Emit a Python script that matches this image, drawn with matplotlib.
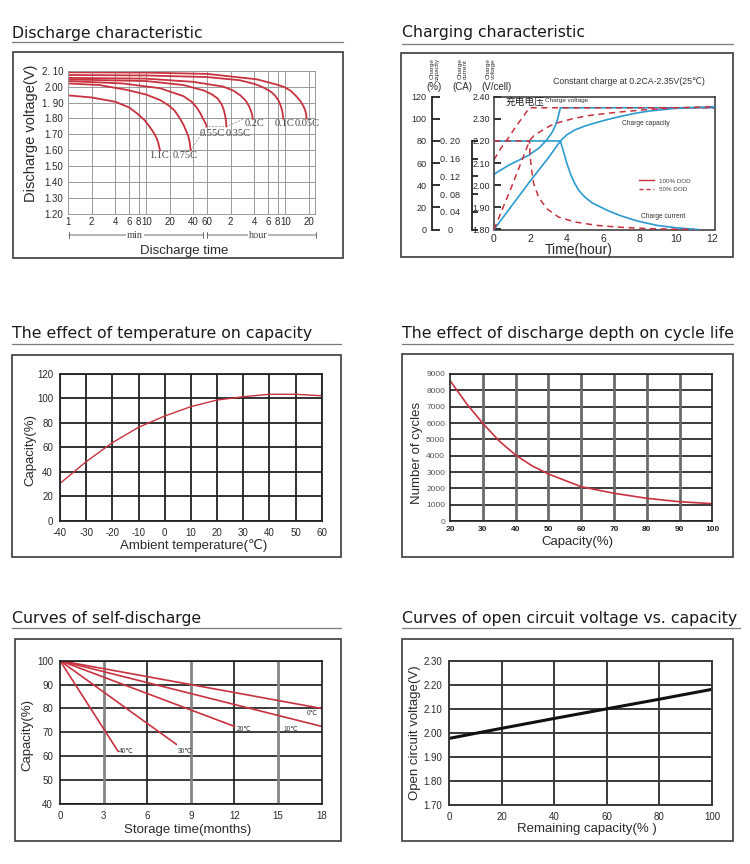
import numpy as np
import matplotlib
matplotlib.use("Agg")
import matplotlib.pyplot as plt
from matplotlib.lines import Line2D
from matplotlib.patches import Rectangle
from matplotlib.ticker import NullLocator

plt.rcParams.update({
    "font.family": ["Liberation Sans", "DejaVu Sans"],
    "axes.linewidth": 1.0,
    "axes.unicode_minus": False,
})

W, H = 750, 864

# ---------------- data ----------------
# discharge characteristic: time (min), voltage per cell (V)
dis_rates = ["1.1C", "0.75C", "0.55C", "0.35C", "0.2C", "0.1C", "0.05C"]
dis_t_110 = [1, 2, 4, 6, 7.5, 9.5, 11, 12.5, 13.5, 14.3, 15]
dis_v_110 = [1.945, 1.932, 1.905, 1.87, 1.835, 1.79, 1.75, 1.71, 1.68, 1.645, 1.60]
dis_t_075 = [1, 2.5, 5.6, 10, 15, 19, 23, 27, 30, 32.5, 34.7, 36, 37]
dis_v_075 = [2.02, 2.01, 1.98, 1.95, 1.916, 1.885, 1.85, 1.80, 1.76, 1.72, 1.685, 1.65, 1.60]
dis_t_055 = [1, 5, 15, 30, 38, 44, 49, 53, 56, 58, 59]
dis_v_055 = [2.035, 2.02, 1.99, 1.94, 1.905, 1.87, 1.835, 1.80, 1.78, 1.765, 1.75]
dis_t_035 = [1, 10, 30, 55, 70, 82, 92, 98, 102, 105, 106]
dis_v_035 = [2.045, 2.035, 2.01, 1.975, 1.95, 1.925, 1.89, 1.855, 1.82, 1.78, 1.75]
dis_t_020 = [1, 10, 40, 97, 130, 160, 185, 205, 218, 226, 230]
dis_v_020 = [2.055, 2.05, 2.03, 2.0, 1.975, 1.945, 1.915, 1.88, 1.85, 1.825, 1.80]
dis_t_010 = [1, 10, 60, 158, 250, 330, 400, 450, 490, 525, 550, 566]
dis_v_010 = [2.073, 2.07, 2.06, 2.04, 2.015, 1.99, 1.965, 1.94, 1.915, 1.88, 1.845, 1.80]
dis_t_005 = [1, 10, 60, 259, 450, 566, 700, 841, 950, 1030, 1074, 1105, 1125]
dis_v_005 = [2.09, 2.088, 2.08, 2.046, 2.015, 2.0, 1.975, 1.937, 1.905, 1.875, 1.853, 1.83, 1.80]
dis_end_t = [15, 37, 59, 106, 183, 1125]
dis_end_v = [1.60, 1.60, 1.75, 1.75, 1.80, 1.80]
dis_xticks = [1, 2, 4, 6, 8, 10, 20, 40, 60, 120, 240, 360, 480, 600, 1200]
dis_xlabels = ["1", "2", "4", "6", "8", "10", "20", "40", "60",
               "2", "4", "6", "8", "10", "20"]
dis_yticks = [1.2, 1.3, 1.4, 1.5, 1.6, 1.7, 1.8, 1.9, 2.0, 2.1]
dis_ylabels = ["1.20", "1.30", "1.40", "1.50", "1.60", "1.70", "1.80",
               "1. 90", "2.00", "2. 10"]

# charging characteristic: time (h)
chg_t_v100 = [0, 0.8, 1.9, 2.5, 2.9, 3.2, 3.35, 3.5, 3.65, 12.1]
chg_v100 = [2.05, 2.09, 2.135, 2.17, 2.205, 2.24, 2.265, 2.30, 2.35, 2.35]
chg_t_i100 = [0, 3.65, 3.72, 3.85, 4.0, 4.2, 4.4, 4.65, 5.0, 5.4, 5.8, 6.3, 6.9, 7.5, 8.0, 9.0, 10.0, 11.2]
chg_i100 = [0.20, 0.20, 0.19, 0.172, 0.150, 0.126, 0.107, 0.089, 0.073, 0.060, 0.052, 0.042,
            0.032, 0.024, 0.018, 0.009, 0.004, 0.0]
chg_t_c100 = [0, 1, 2, 3, 3.65, 4.0, 4.45, 5.0, 5.5, 6.2, 6.9, 7.7, 8.5, 10, 12.1]
chg_c100 = [0, 22, 44, 65, 80, 85.5, 90, 93.5, 96, 99.2, 102, 104.8, 107, 109.5, 111]
chg_t_v50 = [0, 0.4, 0.8, 1.2, 1.6, 1.95, 12.1]
chg_v50 = [2.115, 2.17, 2.215, 2.265, 2.31, 2.35, 2.35]
chg_t_i50 = [0, 1.95, 1.98, 2.05, 2.18, 2.45, 2.9, 3.55, 4.45, 5.7, 7.0, 8.5, 11.0]
chg_i50 = [0.20, 0.20, 0.17, 0.14, 0.104, 0.073, 0.047, 0.028, 0.017, 0.009, 0.005, 0.002, 0.0]
chg_t_c50 = [0, 0.5, 1, 1.5, 1.95, 2.2, 2.6, 3.0, 3.4, 4.3, 5.2, 6.8, 8.5, 10, 12.1]
chg_c50 = [0, 20, 40, 61, 80, 85, 89, 93, 96, 100, 103, 106, 108.5, 110, 111]
cur_ticks = [0, 0.04, 0.08, 0.12, 0.16, 0.20]
cur_labels = ["0", "0. 04", "0. 08", "0. 12", "0. 16", "0. 20"]

# temperature vs capacity
temp_c = [-40, -30, -20, -10, 0, 10, 20, 30, 40, 50, 60]
temp_cap = [30.5, 48.3, 63.8, 76.4, 85.6, 93.3, 98.7, 101.4, 103.4, 103.4, 102.2]

# depth of discharge vs cycle life
dod_cap = [20, 25, 30, 35, 40, 45, 50, 60, 70, 80, 90, 100]
dod_cycles = [8600, 7200, 5980, 4900, 4040, 3380, 2880, 2100, 1700, 1390, 1180, 1060]

# self-discharge: start (0 months, 100 %) -> end point
sd_labels = ["0℃", "10℃", "20℃", "30℃", "40℃"]
sd_end_month = [18, 18, 12, 8, 4]
sd_end_cap = [80, 72.5, 72.5, 65, 62]

# open circuit voltage vs remaining capacity
ocv_cap = [0, 20, 40, 60, 80, 100]
ocv_v = [1.977, 2.019, 2.06, 2.10, 2.14, 2.181]

RED = "#c8323f"
BLUE = "#2b9bcf"
TXT = "#2a2a2a"

fig = plt.figure(figsize=(W / 100, H / 100), dpi=100)
bg = fig.add_axes([0, 0, 1, 1])
bg.set_xlim(0, W); bg.set_ylim(H, 0); bg.axis("off")


def px_axes(x0, y0, x1, y1):
    return fig.add_axes([x0 / W, 1 - y1 / H, (x1 - x0) / W, (y1 - y0) / H])


def panel(title, tx, ty, ux1, uy, box):
    bg.text(tx, ty, title, fontsize=11.3, family="DejaVu Sans", va="baseline", color="#1a1a1a")
    bg.plot([tx, ux1], [uy, uy], color="#7a7a7a", lw=0.9)
    x0, y0, x1, y1 = box
    bg.add_patch(Rectangle((x0, y0), x1 - x0, y1 - y0, fill=False, ec="#4a4a4a", lw=1.3))


panel("Discharge characteristic", 12, 38, 343, 41.5, (13, 51.5, 343, 258))
panel("Charging characteristic", 402, 37.5, 733, 43.5, (401, 53, 733, 257))
panel("The effect of temperature on capacity", 12, 338, 341, 344, (12, 355, 341, 557))
panel("The effect of discharge depth on cycle life", 402, 338, 733, 344, (402, 354, 733, 557))
panel("Curves of self-discharge", 12, 623.5, 341, 628, (15, 639, 341, 841))
panel("Curves of open circuit voltage vs. capacity", 402, 622.5, 740, 627.5, (402, 639, 733, 841))

# ---------------- discharge ----------------
ax1 = px_axes(68, 70.7, 315, 214)
ax1.set_xscale("log")
ax1.set_xlim(1, 1440); ax1.set_ylim(1.2, 2.1)
ax1.set_xticks(dis_xticks); ax1.set_xticklabels(dis_xlabels)
ax1.xaxis.set_minor_locator(NullLocator())
ax1.set_yticks(dis_yticks); ax1.set_yticklabels(dis_ylabels)
ax1.grid(True, color="#9a9a9a", lw=0.7)
ax1.tick_params(length=0, labelsize=7, colors=TXT)
ax1.tick_params(axis="y", pad=3.5)
ax1.tick_params(axis="x", pad=2.5)
for s in ax1.spines.values():
    s.set_color("#9a9a9a"); s.set_linewidth(0.7)
ax1.plot(dis_end_t, dis_end_v, color="#a0a0a0", lw=0.7, ls=(0, (2, 1.5)))
dis_curves = [(dis_t_110, dis_v_110), (dis_t_075, dis_v_075), (dis_t_055, dis_v_055),
              (dis_t_035, dis_v_035), (dis_t_020, dis_v_020), (dis_t_010, dis_v_010),
              (dis_t_005, dis_v_005)]
lab_f = [0.97, 0.86, 1.17, 1.40, 1.07, 1.04, 1.01]
lab_dv = [0.03, 0.033, 0.043, 0.043, 0.03, 0.03, 0.03]
for (t, v), name, f, dv in zip(dis_curves, dis_rates, lab_f, lab_dv):
    ax1.plot(t, v, color=RED, lw=1.3)
    ax1.text(t[-1] * f, v[-1] - dv, name, ha="center", va="center", fontsize=7.5,
             family="Liberation Serif", color="#444", clip_on=False)
bg.text(31, 133, "Discharge voltage(V)", rotation=90, ha="center", va="center",
        fontsize=10.5, color=TXT)
bg.text(184, 251, "Discharge time", ha="center", va="center", fontsize=9.5, color=TXT)
for xa, xb, lab, xm in [(69, 203, "min", 135), (207, 316, "hour", 258)]:
    bg.annotate("", xy=(xa, 235), xytext=(xb, 235),
                arrowprops=dict(arrowstyle="|-|,widthA=0.25,widthB=0.25", lw=0.6, color="#555",
                                shrinkA=0, shrinkB=0))
    bg.text(xm, 235, lab, ha="center", va="center", fontsize=7.5, family="Liberation Serif",
            color="#444", bbox=dict(fc="white", ec="none", pad=0.6))

# ---------------- charging ----------------
axc = px_axes(494, 96.7, 715, 229.5)
axc.set_xlim(0, 12.15); axc.set_ylim(1.80, 2.40)
axc.set_xticks(range(0, 13, 2))
axc.set_yticks([1.8, 1.9, 2.0, 2.1, 2.2, 2.3, 2.4])
axc.set_yticklabels(["1.80", "1.90", "2.00", "2.10", "2.20", "2.30", "2.40"])
axc.tick_params(axis="y", direction="in", length=5, width=1.3, color="#222",
                labelsize=6.5, pad=3, labelcolor=TXT)
axc.tick_params(axis="x", length=0, labelsize=7.5, pad=3, labelcolor=TXT)
for s in axc.spines.values():
    s.set_color("#333"); s.set_linewidth(1.1)
cap_tw = axc.twinx(); cap_tw.set_ylim(0, 120); cap_tw.axis("off")
cur_tw = axc.twinx(); cur_tw.set_ylim(0, 0.30); cur_tw.axis("off")
dash = (0, (4, 3))
axc.plot(chg_t_v100, chg_v100, color=BLUE, lw=1.2)
cur_tw.plot(chg_t_i100, chg_i100, color=BLUE, lw=1.2)
cap_tw.plot(chg_t_c100, chg_c100, color=BLUE, lw=1.2)
axc.plot(chg_t_v50, chg_v50, color=RED, lw=1.1, ls=dash)
cur_tw.plot(chg_t_i50, chg_i50, color=RED, lw=1.1, ls=dash)
cap_tw.plot(chg_t_c50, chg_c50, color=RED, lw=1.1, ls=dash)
axc.legend(handles=[Line2D([], [], color=RED, lw=1.0),
                    Line2D([], [], color=RED, lw=1.0, ls=(0, (3, 2)))],
           labels=["100% DOD", "50% DOD"], loc="upper left",
           bbox_to_anchor=(0.64, 0.41), frameon=False, fontsize=4.5,
           handlelength=2.4, handletextpad=0.8, labelspacing=0.45, borderpad=0,
           labelcolor="#444")
axc.text(0.05, 0.965, "充电电压", transform=axc.transAxes, fontsize=7,
         family=["Noto Sans CJK SC", "DejaVu Sans"], va="center", ha="left", color="#222")
axc.text(0.232, 0.97, "Charge voltage", transform=axc.transAxes, fontsize=4.6,
         va="center", ha="left", color="#333")
axc.text(0.58, 0.80, "Charge capacity", transform=axc.transAxes, fontsize=4.8,
         va="center", ha="left", color="#333")
axc.text(0.667, 0.10, "Charge current", transform=axc.transAxes, fontsize=4.8,
         va="center", ha="left", color="#333")

cap_ax = px_axes(432, 96.7, 440, 229.5)
cap_ax.set_facecolor("none")
cap_ax.set_ylim(0, 120); cap_ax.set_xticks([])
cap_ax.set_yticks(range(0, 121, 20))
cur_ax = px_axes(471.7, 96.7, 480, 229.5)
cur_ax.set_facecolor("none")
cur_ax.set_ylim(0, 0.30); cur_ax.set_xticks([])
cur_ax.set_yticks(cur_ticks); cur_ax.set_yticklabels(cur_labels)
cur_ax.spines["left"].set_bounds(0, 0.20)
for a, pad, tl in [(cap_ax, 4, 6), (cur_ax, 15.5, 4)]:
    for k in ("top", "right", "bottom"):
        a.spines[k].set_visible(False)
    a.spines["left"].set_linewidth(1.3); a.spines["left"].set_color("#222")
    a.tick_params(axis="y", direction="in", length=tl, width=1.3, color="#222",
                  labelsize=6.5, pad=pad, labelcolor=TXT)
for lab in cur_ax.get_yticklabels():
    lab.set_ha("center")

for x, s in [(435, "Charge\ncapacity"), (462.5, "Charge\ncurrent"), (491, "Charge\nvoltage")]:
    bg.text(x, 69, s, rotation=90, ha="center", va="center", fontsize=4.6,
            linespacing=0.95, color="#333")
for x, s in [(434, "(%)"), (462, "(CA)"), (496, "(V/cell)")]:
    bg.text(x, 87.5, s, ha="center", va="center", fontsize=7, color=TXT)
bg.text(553, 81, "Constant charge at 0.2CA-2.35V(25℃)", ha="left", va="center",
        fontsize=6.3, color="#333")
bg.text(579, 250, "Time(hour)", ha="center", va="center", fontsize=10, color=TXT)

# ---------------- temperature ----------------
ax3 = px_axes(60, 374, 321.7, 520.7)
ax3.set_xlim(-40, 60); ax3.set_ylim(0, 120)
ax3.set_xticks(range(-40, 61, 10)); ax3.set_yticks(range(0, 121, 20))
ax3.grid(True, color="#222", lw=1.3)
ax3.tick_params(length=0, labelsize=7, pad=5, labelcolor=TXT)
for s in ax3.spines.values():
    s.set_color("#222"); s.set_linewidth(1.3)
ax3.plot(temp_c, temp_cap, color=RED, lw=1.0)
bg.text(30, 450, "Capacity(%)", rotation=90, ha="center", va="center", fontsize=9.5, color=TXT)
bg.text(194, 545, "Ambient temperature(℃)", ha="center", va="center", fontsize=9.5, color=TXT)

# ---------------- cycle life ----------------
ax4 = px_axes(450, 374, 712.3, 521)
ax4.set_xlim(20, 100); ax4.set_ylim(0, 9000)
ax4.set_xticks(range(20, 101, 10)); ax4.set_yticks(range(0, 9001, 1000))
ax4.grid(True, axis="y", color="#1a1a1a", lw=1.2)
for xv in range(30, 100, 10):
    ax4.axvline(xv, color="#6a6a6a", lw=2.0)
ax4.tick_params(length=0, labelsize=6, pad=3.5, labelcolor="#555")
ax4.tick_params(axis="x", labelcolor="#222")
for lab in ax4.get_xticklabels():
    lab.set_fontweight("bold")
for s in ax4.spines.values():
    s.set_color("#222"); s.set_linewidth(1.2)
ax4.plot(dod_cap, dod_cycles, color=RED, lw=1.2)
bg.text(417, 453, "Number of cycles", rotation=90, ha="center", va="center", fontsize=9.5, color=TXT)
bg.text(577, 542, "Capacity(%)", ha="center", va="center", fontsize=9.5, color=TXT)

# ---------------- self-discharge ----------------
ax5 = px_axes(60, 660.7, 321.7, 804)
ax5.set_xlim(0, 18); ax5.set_ylim(40, 100)
ax5.set_xticks(range(0, 19, 3)); ax5.set_yticks(range(40, 101, 10))
ax5.grid(True, axis="y", color="#1a1a1a", lw=1.2)
for xv in (3, 9, 15):
    ax5.axvline(xv, color="#858585", lw=2.0)
for xv in (6, 12):
    ax5.axvline(xv, color="#1a1a1a", lw=1.2)
ax5.tick_params(length=0, labelsize=7, pad=5, labelcolor=TXT)
for s in ax5.spines.values():
    s.set_color("#1a1a1a"); s.set_linewidth(1.2)
sd_dx = [-1.0, -2.6, 0.15, 0.07, 0.06]
sd_dy = [-2.0, -1.2, -1.2, -3.1, -0.1]
for name, m, c, dx, dy in zip(sd_labels, sd_end_month, sd_end_cap, sd_dx, sd_dy):
    ax5.plot([0, m], [100, c], color=RED, lw=1.2)
    ax5.text(m + dx, c + dy, name, fontsize=4.8, ha="left", va="center", color="#333")
bg.text(27, 735, "Capacity(%)", rotation=90, ha="center", va="center", fontsize=9.5, color=TXT)
bg.text(188, 830, "Storage time(months)", ha="center", va="center", fontsize=9.5, color=TXT)

# ---------------- open circuit voltage ----------------
ax6 = px_axes(449.3, 660.7, 712, 805)
ax6.set_xlim(0, 100); ax6.set_ylim(1.70, 2.30)
ax6.set_xticks(range(0, 101, 20))
ax6.set_yticks([1.7, 1.8, 1.9, 2.0, 2.1, 2.2, 2.3])
ax6.set_yticklabels(["1.70", "1.80", "1.90", "2.00", "2.10", "2.20", "2.30"])
ax6.grid(True, color="#3a3a3a", lw=1.4)
ax6.tick_params(length=0, labelsize=7, pad=5, labelcolor=TXT)
for s in ax6.spines.values():
    s.set_color("#3a3a3a"); s.set_linewidth(1.4)
ax6.plot(ocv_cap, ocv_v, color="#111", lw=2.2)
bg.text(415, 733, "Open circuit voltage(V)", rotation=90, ha="center", va="center",
        fontsize=9.5, color=TXT)
bg.text(587, 829, "Remaining capacity(% )", ha="center", va="center", fontsize=9.5, color=TXT)

fig.savefig("out.png", dpi=100)
